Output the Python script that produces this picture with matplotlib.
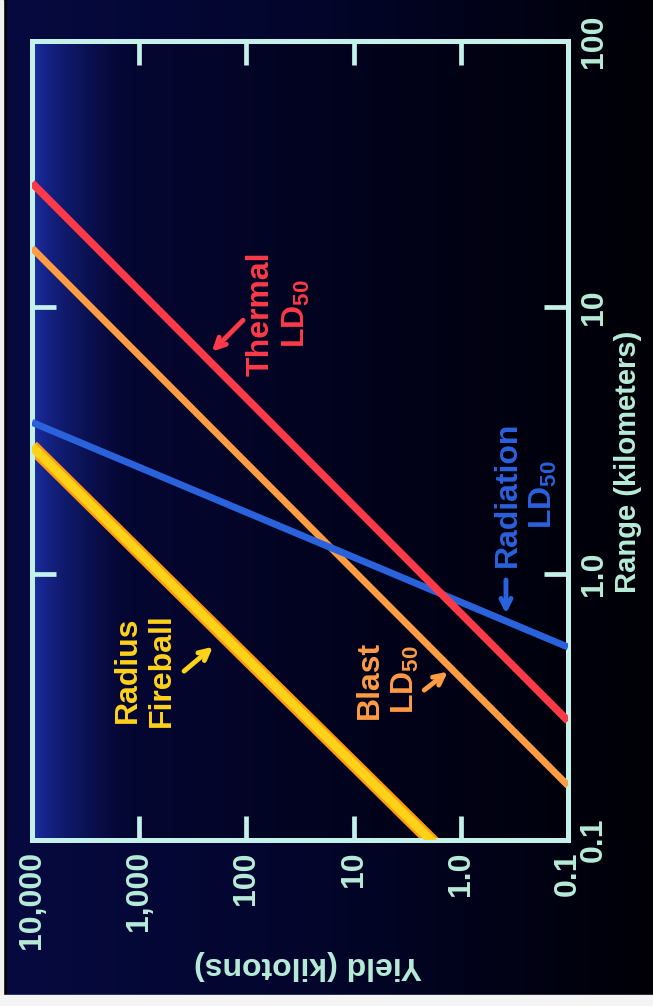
import numpy as np
import matplotlib
matplotlib.use("Agg")
import matplotlib.pyplot as plt
from matplotlib.patches import Rectangle

# Yield (kt) vs range (km) for the lethal effects of a nuclear burst,
# drawn turned on its side: yield runs across, range runs up.
yield_kt = [10000, 0.1]
thermal_km = [29.3, 0.28]
blast_km = [16.7, 0.16]
radiation_km = [3.7, 0.53]
fireball_km = [3.0, 0.031]

yield_ticks = [10000, 1000, 100, 10, 1, 0.1]
yield_labels = ["10,000", "1,000", "100", "10", "1.0", "0.1"]
range_ticks = [0.1, 1, 10, 100]
range_labels = ["0.1", "1.0", "10", "100"]

frame_col = "#c4f2ea"
text_col = "#b6ecd8"
red = "#ff3a48"
orange = "#ff9c44"
yellow = "#ffd21a"
blue = "#2a62dc"

plt.rcParams["font.family"] = ["Liberation Sans", "DejaVu Sans"]
plt.rcParams["font.weight"] = "bold"
plt.rcParams["axes.labelweight"] = "bold"
plt.rcParams["mathtext.fontset"] = "custom"
plt.rcParams["mathtext.rm"] = "Liberation Sans:bold"
plt.rcParams["mathtext.bf"] = "Liberation Sans:bold"

W, H = 653, 1006
fig = plt.figure(figsize=(W / 100, H / 100), dpi=100)

# slide background: blue glow inside the frame on the left, fading to black on the right
def blend(a, b, t):
    return np.array(a) * (1 - t) + np.array(b) * t

outer = np.zeros((W, 3))
inner = np.zeros((W, 3))
for i in range(W):
    if i < 7:
        outer[i] = inner[i] = [0, 0, 0]
        continue
    if i < 330:
        outer[i] = blend([6, 10, 64], [3, 5, 42], (i - 7) / 323)
    else:
        outer[i] = blend([3, 5, 42], [0, 0, 6], (i - 330) / (W - 330))
    if i < 34:
        inner[i] = [6, 10, 62]
    elif i < 120:
        t = ((i - 34) / 86) ** 0.6
        inner[i] = blend([28, 48, 172], [5, 7, 52], t)
    elif i < 330:
        inner[i] = blend([5, 7, 52], [2, 3, 30], (i - 120) / 210)
    else:
        inner[i] = blend([2, 3, 30], [0, 0, 6], (i - 330) / (W - 330))
bg = np.repeat(outer[None, :, :], H, axis=0)
bg[41:840] = inner[None, :, :]
bg_ax = fig.add_axes([0, 0, 1, 1], zorder=0)
bg_ax.imshow(bg / 255.0, aspect="auto", extent=[0, 1, 0, 1])
bg_ax.axis("off")

# white slide-mount edges
fig.patches.append(Rectangle((0, 0), 2.5 / W, 1, transform=fig.transFigure,
                             color="#f0f0f0", zorder=5))
fig.patches.append(Rectangle((0, 0), 1, 11 / H, transform=fig.transFigure,
                             color="#f4f4f4", zorder=5))

ax = fig.add_axes([32 / W, 1 - 840 / H, 536 / W, 799 / H], zorder=1)
ax.set_facecolor("none")
ax.set_xscale("log")
ax.set_yscale("log")
ax.set_xlim(10000, 0.1)
ax.set_ylim(0.1, 100)

# fireball line has a yellow core with an orange rim
ax.plot(yield_kt, fireball_km, color="#ff9a10", lw=10, solid_capstyle="butt", zorder=2)
ax.plot(yield_kt, fireball_km, color=yellow, lw=6.5, solid_capstyle="butt", zorder=3)
ax.plot(yield_kt, blast_km, color=orange, lw=5, solid_capstyle="butt", zorder=3)
ax.plot(yield_kt, radiation_km, color=blue, lw=5, solid_capstyle="butt", zorder=3)
ax.plot(yield_kt, thermal_km, color=red, lw=5.5, solid_capstyle="butt", zorder=4)

for sp in ax.spines.values():
    sp.set_color(frame_col)
    sp.set_linewidth(3.6)

ax.set_xticks(yield_ticks)
ax.set_xticklabels(yield_labels, rotation=90, fontsize=23, color=text_col)
ax.set_yticks(range_ticks)
ax.set_yticklabels(range_labels, rotation=90, fontsize=23, color=text_col, va="center")
ax.minorticks_off()
ax.yaxis.tick_right()
ax.tick_params(axis="both", which="major", direction="in", length=17, width=3.4,
               color=frame_col, top=True, bottom=True, left=True, right=True,
               labelleft=False, labelright=True, pad=8)

ax.set_xlabel("Yield (kilotons)", fontsize=23, color=text_col, rotation=180,
              ha="center", va="center")
ax.xaxis.set_label_coords(0.515, -0.156)
ax.yaxis.set_label_position("right")
ax.set_ylabel("Range (kilometers)", fontsize=21, color=text_col, rotation=90,
              ha="center", va="center")
ax.yaxis.set_label_coords(1.112, 0.473)

# curve labels with pointer arrows
lbl = dict(fontsize=23, rotation=90, ha="center", va="center", multialignment="center")
ax.text(883, 0.435, "Radius\nFireball", color=yellow, **lbl)
ax.annotate("", xy=(196, 0.54), xytext=(399, 0.424),
            arrowprops=dict(arrowstyle="->", color=yellow, lw=3.5, mutation_scale=18))

ax.text(4.77, 0.40, "Blast\nLD$_{50}$", color=orange, **lbl)
ax.annotate("", xy=(1.26, 0.435), xytext=(2.3, 0.36),
            arrowprops=dict(arrowstyle="->", color=orange, lw=3.5, mutation_scale=18))

ax.text(49.7, 9.5, "Thermal\nLD$_{50}$", color=red, **lbl)
ax.annotate("", xy=(219, 6.7), xytext=(103, 9.1),
            arrowprops=dict(arrowstyle="->", color=red, lw=3.5, mutation_scale=18))

ax.text(0.247, 1.99, "Radiation\nLD$_{50}$", color=blue, **lbl)
ax.annotate("", xy=(0.379, 0.69), xytext=(0.379, 0.97),
            arrowprops=dict(arrowstyle="->", color=blue, lw=3.5, mutation_scale=18))

fig.savefig("out.png", dpi=100, facecolor="black")
